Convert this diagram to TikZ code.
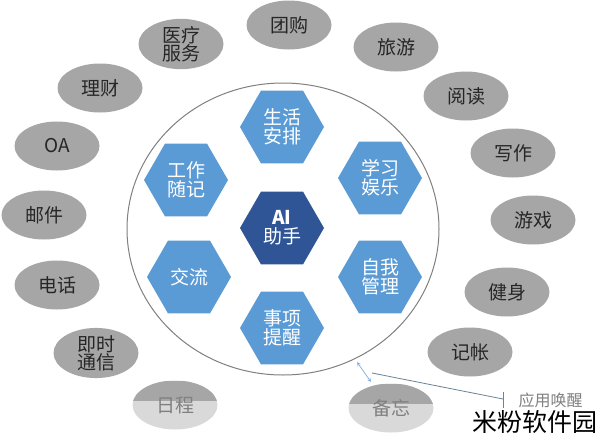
\documentclass[tikz,border=0pt]{standalone}
\usepackage{fontspec}
\setmainfont{Noto Sans CJK SC}
\usetikzlibrary{shapes.geometric,arrows.meta}
\definecolor{hexblue}{HTML}{5B9BD5}
\definecolor{hexdark}{HTML}{2F5597}
\definecolor{ellgray}{HTML}{A6A6A6}
\definecolor{ellpale}{HTML}{D9D9D9}
\definecolor{txtdark}{HTML}{262626}
\definecolor{rimgray}{HTML}{808080}
\definecolor{arrblue}{HTML}{8EB4E3}
\definecolor{callout}{HTML}{6A8493}
\tikzset{
  oval/.style={ellipse, fill=ellgray, minimum width=85pt, minimum height=49pt, inner sep=0pt,
    text=txtdark, align=center, font=\fontsize{19}{21}\selectfont},
  ovalfade/.style={oval, fill=ellpale, text=rimgray,
    path picture={\fill[ellgray] (path picture bounding box.north west) rectangle ([yshift=4pt]path picture bounding box.east);}},
  hexa/.style={regular polygon, regular polygon sides=6, minimum size=84pt, inner sep=0pt,
    fill=hexblue, text=white, align=center, font=\fontsize{19}{21}\selectfont},
  hexcore/.style={hexa, fill=hexdark},
}
\begin{document}
\begin{tikzpicture}[x=1pt,y=-1pt]
\useasboundingbox[fill=white] (0,0) rectangle (600,442);
% big circle
\draw[rimgray, line width=1pt] (283,229) ellipse [x radius=156, y radius=146];
% hexagons
\node[hexcore] (ai) at (282,228) {\textbf{AI}\\[-2pt]助手};
\node[hexa] (life) at (282,127) {生活\\[-2pt]安排};
\node[hexa] (study) at (380,178) {学习\\[-2pt]娱乐};
\node[hexa] (self) at (380,277) {自我\\[-2pt]管理};
\node[hexa] (remind) at (282,328) {事项\\[-2pt]提醒};
\node[hexa] (talk) at (189,277) {交流};
\node[hexa] (work) at (186,180) {工作\\[-2pt]随记};
% ellipses
\node[oval] (med) at (181,44) {医疗\\[-3pt]服务};
\node[oval] (group) at (289,25) {团购};
\node[oval] (travel) at (396,47) {旅游};
\node[oval] (read) at (466,96) {阅读};
\node[oval] (write) at (513,153) {写作};
\node[oval] (game) at (533,220) {游戏};
\node[oval] (fit) at (507,292) {健身};
\node[oval] (acct) at (470,352) {记帐};
\node[ovalfade] (memo) at (391,408) {备忘};
\node[ovalfade] (sched) at (175,405) {日程};
\node[oval] (im) at (96,353) {即时\\[-3pt]通信};
\node[oval] (phone) at (57,285) {电话};
\node[oval] (mail) at (44,215) {邮件};
\node[oval] (oa) at (57,146) {OA};
\node[oval] (fin) at (100,88) {理财};
% small arrow and callout
\coordinate (arrA) at (357,362);
\coordinate (arrB) at (371,382);
\draw[arrblue, line width=0.8pt, {Stealth[length=4pt,width=4pt]}-{Stealth[length=4pt,width=4pt]}] (arrA) -- (arrB);
\coordinate (callA) at (372,373);
\coordinate (callB) at (503,399);
\coordinate (tickT) at (503,392);
\coordinate (tickB) at (503,408);
\draw[callout, line width=0.8pt] (callA) -- (callB);
\draw[callout, line width=0.8pt] (tickT) -- (tickB);
\node[text=rimgray, font=\fontsize{16}{18}\selectfont, anchor=west] (wake) at (515,400) {应用唤醒};
\node[text=black, font=\fontsize{25}{28}\selectfont] (mark) at (535,422) {米粉软件园};
\end{tikzpicture}
\end{document}
